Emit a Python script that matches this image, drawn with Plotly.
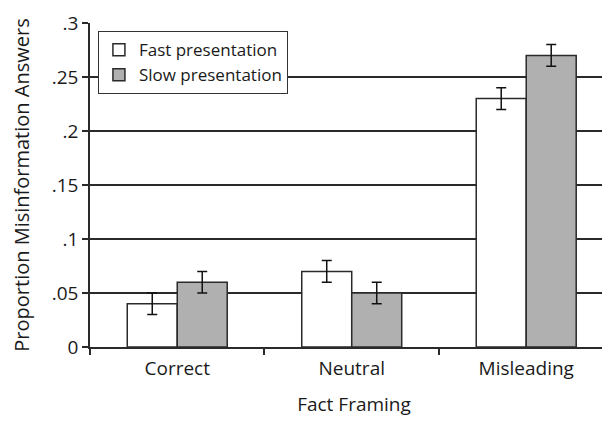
import plotly.graph_objects as go

categories = ["Correct", "Neutral", "Misleading"]
fast_values = [0.04, 0.07, 0.23]
slow_values = [0.06, 0.05, 0.27]
fast_err = [0.01, 0.01, 0.01]
slow_err = [0.01, 0.01, 0.01]
y_tickvals = [0, 0.05, 0.1, 0.15, 0.2, 0.25, 0.3]
y_ticktext = ["0", ".05", ".1", ".15", ".2", ".25", ".3"]

font = "Open Sans, Noto Sans, sans-serif"
edge = "#2a2a2a"

fig = go.Figure()
fig.add_trace(go.Bar(
    x=categories, y=fast_values, name="Fast presentation",
    marker=dict(color="white", line=dict(color=edge, width=1.5)),
    error_y=dict(type="data", array=fast_err, color="#111", thickness=1.5, width=5),
))
fig.add_trace(go.Bar(
    x=categories, y=slow_values, name="Slow presentation",
    marker=dict(color="#b0b0b0", line=dict(color=edge, width=1.5)),
    error_y=dict(type="data", array=slow_err, color="#111", thickness=1.5, width=5),
))

fig.update_layout(
    width=610, height=421,
    margin=dict(l=82, r=0, t=15, b=82, autoexpand=False),
    paper_bgcolor="white", plot_bgcolor="white",
    barmode="group", bargap=0.427, bargroupgap=0,
    font=dict(family=font, size=19, color="#1a1a1a"),
    showlegend=True,
    legend=dict(
        x=0.015, y=0.975, xanchor="left", yanchor="top",
        bgcolor="white", bordercolor="#333", borderwidth=1,
        font=dict(size=17), tracegroupgap=0, itemwidth=30,
    ),
    xaxis=dict(
        range=[-0.5, 2.526], showline=True, linecolor=edge, linewidth=1.5,
        ticks="outside", tickson="boundaries", ticklen=6, tickcolor=edge, tickwidth=1.5,
        showgrid=False, tickfont=dict(size=19), automargin=True, ticklabelstandoff=3,
        title=dict(text="Fact Framing", font=dict(size=19), standoff=18),
    ),
    yaxis=dict(
        range=[0, 0.3], tickvals=y_tickvals, ticktext=y_ticktext,
        showline=True, linecolor=edge, linewidth=1.5,
        ticks="outside", ticklen=6, tickcolor=edge, tickwidth=1.5,
        showgrid=True, gridcolor=edge, gridwidth=1.5, zeroline=False,
        tickfont=dict(size=19), automargin=True,
        title=dict(text="Proportion Misinformation Answers", font=dict(size=20), standoff=26),
    ),
)

fig.write_html("out.html")
